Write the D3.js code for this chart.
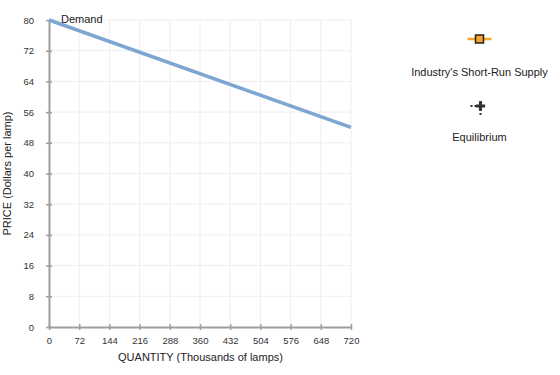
<!DOCTYPE html>
<html><head><meta charset="utf-8">
<script src="https://cdn.jsdelivr.net/npm/d3@7"></script>
<style>body{margin:0;background:#fff;font-family:Arial,"Liberation Sans",sans-serif;}</style>
</head><body>
<script>
const xTicks = [0,72,144,216,288,360,432,504,576,648,720];
const yTicks = [0,8,16,24,32,40,48,56,64,72,80];
const demandQ = [0,720];
const demandP = [80,52];
const legendItems = ["Industry's Short-Run Supply","Equilibrium"];

const W=560,H=375;
const svg=d3.select("body").append("svg").attr("width",W).attr("height",H);
const x=d3.scaleLinear().domain([0,720]).range([49,351]);
const y=d3.scaleLinear().domain([0,80]).range([327,20]);

// grid
svg.append("g").selectAll("line").data(xTicks.slice(1)).join("line")
 .attr("x1",d=>x(d)).attr("x2",d=>x(d)).attr("y1",y(0)).attr("y2",y(80))
 .attr("stroke","#eeeeee").attr("stroke-width",1);
svg.append("g").selectAll("line").data(yTicks.slice(1)).join("line")
 .attr("y1",d=>y(d)).attr("y2",d=>y(d)).attr("x1",x(0)).attr("x2",x(720))
 .attr("stroke","#eeeeee").attr("stroke-width",1);

// axes
const xa=svg.append("g").attr("transform",`translate(0,${y(0)})`)
 .call(d3.axisBottom(x).tickValues(xTicks).tickSize(3).tickPadding(7).tickSizeOuter(0));
const ya=svg.append("g").attr("transform",`translate(${x(0)},0)`)
 .call(d3.axisLeft(y).tickValues(yTicks).tickSize(3).tickPadding(12).tickSizeOuter(0));
[xa,ya].forEach(a=>{
 a.select(".domain").attr("stroke","#9e9e9e").attr("stroke-width",2);
 a.selectAll(".tick line").attr("stroke","#9e9e9e").attr("stroke-width",1.5);
 a.selectAll("text").attr("font-size",9.5).attr("fill","#333").attr("font-family","Arial,'Liberation Sans',sans-serif");
});
xa.selectAll(".tick line").attr("y1",-3).attr("y2",3);
ya.selectAll(".tick line").attr("x1",-3).attr("x2",3);

// demand
svg.append("path").datum(demandQ.map((q,i)=>[q,demandP[i]]))
 .attr("d",d3.line().x(d=>x(d[0])).y(d=>y(d[1])))
 .attr("stroke","#7ea6d3").attr("stroke-width",3.5).attr("fill","none");
svg.append("text").attr("x",61).attr("y",23).text("Demand")
 .attr("font-size",11).attr("fill","#222");

// axis labels
svg.append("text").attr("x",200.5).attr("y",361).attr("text-anchor","middle")
 .attr("font-size",11).attr("fill","#222").text("QUANTITY (Thousands of lamps)");
svg.append("text").attr("transform",`translate(11,${(y(0)+y(80))/2}) rotate(-90)`)
 .attr("text-anchor","middle").attr("font-size",11).attr("fill","#222").text("PRICE (Dollars per lamp)");

// legend
const lx=479.5;
const g1=svg.append("g");
g1.append("line").attr("x1",lx-12).attr("x2",lx+12).attr("y1",39).attr("y2",39).attr("stroke","#f5a623").attr("stroke-width",2.5);
g1.append("rect").attr("x",lx-4).attr("y",35).attr("width",8).attr("height",8).attr("fill","#f5a623").attr("stroke","#222").attr("stroke-width",1.5);
svg.append("text").attr("x",lx).attr("y",76).attr("text-anchor","middle").attr("font-size",11).attr("fill","#222").text(legendItems[0]);
const g2=svg.append("g");
g2.append("line").attr("x1",lx-9).attr("x2",lx+6).attr("y1",106).attr("y2",106).attr("stroke","#333").attr("stroke-width",2).attr("stroke-dasharray","2,2");
g2.append("line").attr("x1",lx+1).attr("x2",lx+1).attr("y1",101).attr("y2",116).attr("stroke","#333").attr("stroke-width",2).attr("stroke-dasharray","2,2");
g2.append("path").attr("d",d3.symbol(d3.symbolCross,48)()).attr("transform",`translate(${lx+1},106)`).attr("fill","#333");
svg.append("text").attr("x",lx).attr("y",141).attr("text-anchor","middle").attr("font-size",11).attr("fill","#222").text(legendItems[1]);
</script>
</body></html>
